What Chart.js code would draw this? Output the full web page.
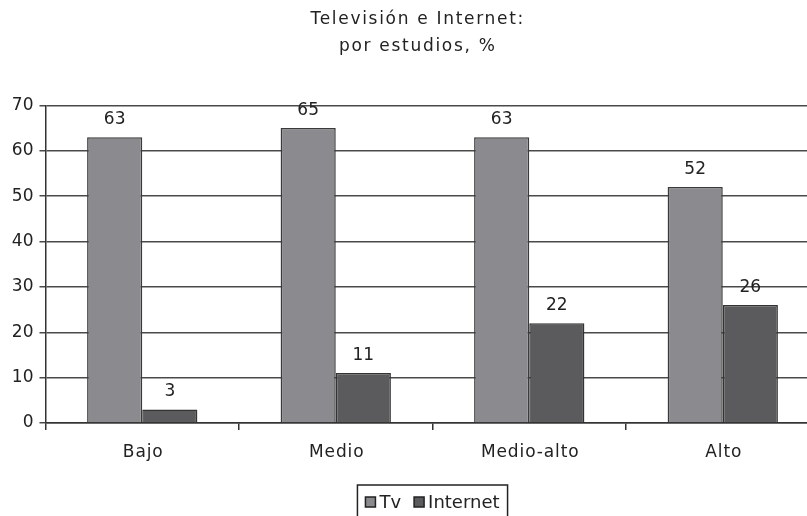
<!DOCTYPE html>
<html>
<head>
<meta charset="utf-8">
<script src="https://cdn.jsdelivr.net/npm/chart.js@4/dist/chart.umd.min.js"></script>
<style>
html,body{margin:0;padding:0;overflow:hidden;background:#fff;}
#wrap{width:834px;height:516px;position:relative;}
</style>
</head>
<body>
<div id="wrap"><canvas id="c" width="834" height="516"></canvas></div>
<script>
const categories = ["Bajo", "Medio", "Medio-alto", "Alto"];
const tvValues = [63, 65, 63, 52];
const internetValues = [3, 11, 22, 26];
const seriesNames = ["Tv", "Internet"];
const yTicks = [0, 10, 20, 30, 40, 50, 60, 70];
const titleLines = ["Televisión e Internet:", "por estudios, %"];

const FONT = "'DejaVu Sans', sans-serif";

const valueLabels = {
  id: 'valueLabels',
  afterDatasetsDraw(chart) {
    const ctx = chart.ctx;
    ctx.save();
    ctx.font = "17px " + FONT;
    ctx.fillStyle = '#222';
    ctx.textAlign = 'center';
    ctx.textBaseline = 'bottom';
    chart.data.datasets.forEach((ds, i) => {
      chart.getDatasetMeta(i).data.forEach((bar, j) => {
        ctx.fillText(String(ds.data[j]), bar.x, bar.y - 9);
      });
    });
    ctx.restore();
  }
};

function withSpacing(obj, name, spacing, dx, chart) {
  if (!obj || obj['_sp_' + name]) return;
  const orig = obj[name];
  obj[name] = function (...args) {
    const ctx = chart.ctx;
    ctx.save();
    ctx.letterSpacing = spacing;
    ctx.translate(dx, 0);
    const r = orig.apply(this, args);
    ctx.restore();
    return r;
  };
  obj['_sp_' + name] = true;
}

const spacingPlugin = {
  id: 'spacingPlugin',
  afterLayout(chart) {
    withSpacing(chart.titleBlock, 'draw', '1.7px', 8, chart);
    withSpacing(chart.scales.x, 'drawLabels', '0.9px', 1, chart);
  }
};

const customLegend = {
  id: 'customLegend',
  afterDraw(chart) {
    const ctx = chart.ctx;
    const ca = chart.chartArea;
    ctx.save();
    ctx.font = "18px " + FONT;
    const sq = 10, gapText = 4, gapItem = 13, padL = 8, padR = 8;
    const widths = seriesNames.map(n => ctx.measureText(n).width);
    let total = padL + padR;
    widths.forEach((w, i) => { total += sq + gapText + w + (i < widths.length - 1 ? gapItem : 0); });
    const cx = (ca.left + ca.right) / 2;
    let x = cx - total / 2;
    const top = 485, cy = 502;
    ctx.strokeStyle = '#222';
    ctx.lineWidth = 1.5;
    ctx.strokeRect(x, top, total, 50);
    x += padL;
    ctx.textBaseline = 'middle';
    ctx.textAlign = 'left';
    chart.data.datasets.forEach((ds, i) => {
      ctx.fillStyle = ds.backgroundColor;
      ctx.fillRect(x, cy - sq / 2, sq, sq);
      ctx.strokeStyle = '#222';
      ctx.lineWidth = 1.5;
      ctx.strokeRect(x, cy - sq / 2, sq, sq);
      x += sq + gapText;
      ctx.fillStyle = '#222';
      ctx.fillText(seriesNames[i], x, cy + 1);
      x += widths[i] + gapItem;
    });
    ctx.restore();
  }
};

new Chart(document.getElementById('c'), {
  type: 'bar',
  data: {
    labels: categories,
    datasets: [
      { label: seriesNames[0], data: tvValues, backgroundColor: '#8b8b8f', borderColor: '#3a3a3a', borderWidth: 1.5 },
      { label: seriesNames[1], data: internetValues, backgroundColor: '#5b5b5d', borderColor: '#333', borderWidth: 1.5 }
    ]
  },
  options: {
    responsive: false,
    animation: false,
    layout: { padding: { left: 0, right: 14.5, top: 0, bottom: 50 } },
    datasets: { bar: { categoryPercentage: 0.57, barPercentage: 1.0 } },
    plugins: {
      title: {
        display: true,
        text: titleLines,
        color: '#222',
        font: { family: FONT, size: 17, weight: 'normal', lineHeight: 1.6 },
        padding: { top: 6, bottom: 45 }
      },
      legend: { display: false },
      tooltip: { enabled: false }
    },
    scales: {
      x: {
        grid: { offset: true, drawOnChartArea: false, drawTicks: true, tickLength: 7, color: '#333', lineWidth: 1.5 },
        border: { color: '#333', width: 1.5 },
        ticks: { color: '#222', font: { family: FONT, size: 17 }, padding: 12 },
        afterFit(s) { s.height = 43; }
      },
      y: {
        min: 0, max: 70,
        afterBuildTicks(s) { s.ticks = yTicks.map(v => ({ value: v })); },
        grid: { color: '#4a4a4a', lineWidth: 1.5, tickLength: 6, drawTicks: true },
        border: { color: '#333', width: 1.5 },
        ticks: { color: '#222', font: { family: FONT, size: 17 }, padding: 6 },
        afterFit(s) { s.width = 45.5; }
      }
    }
  },
  plugins: [valueLabels, spacingPlugin, customLegend]
});
</script>
</body>
</html>
